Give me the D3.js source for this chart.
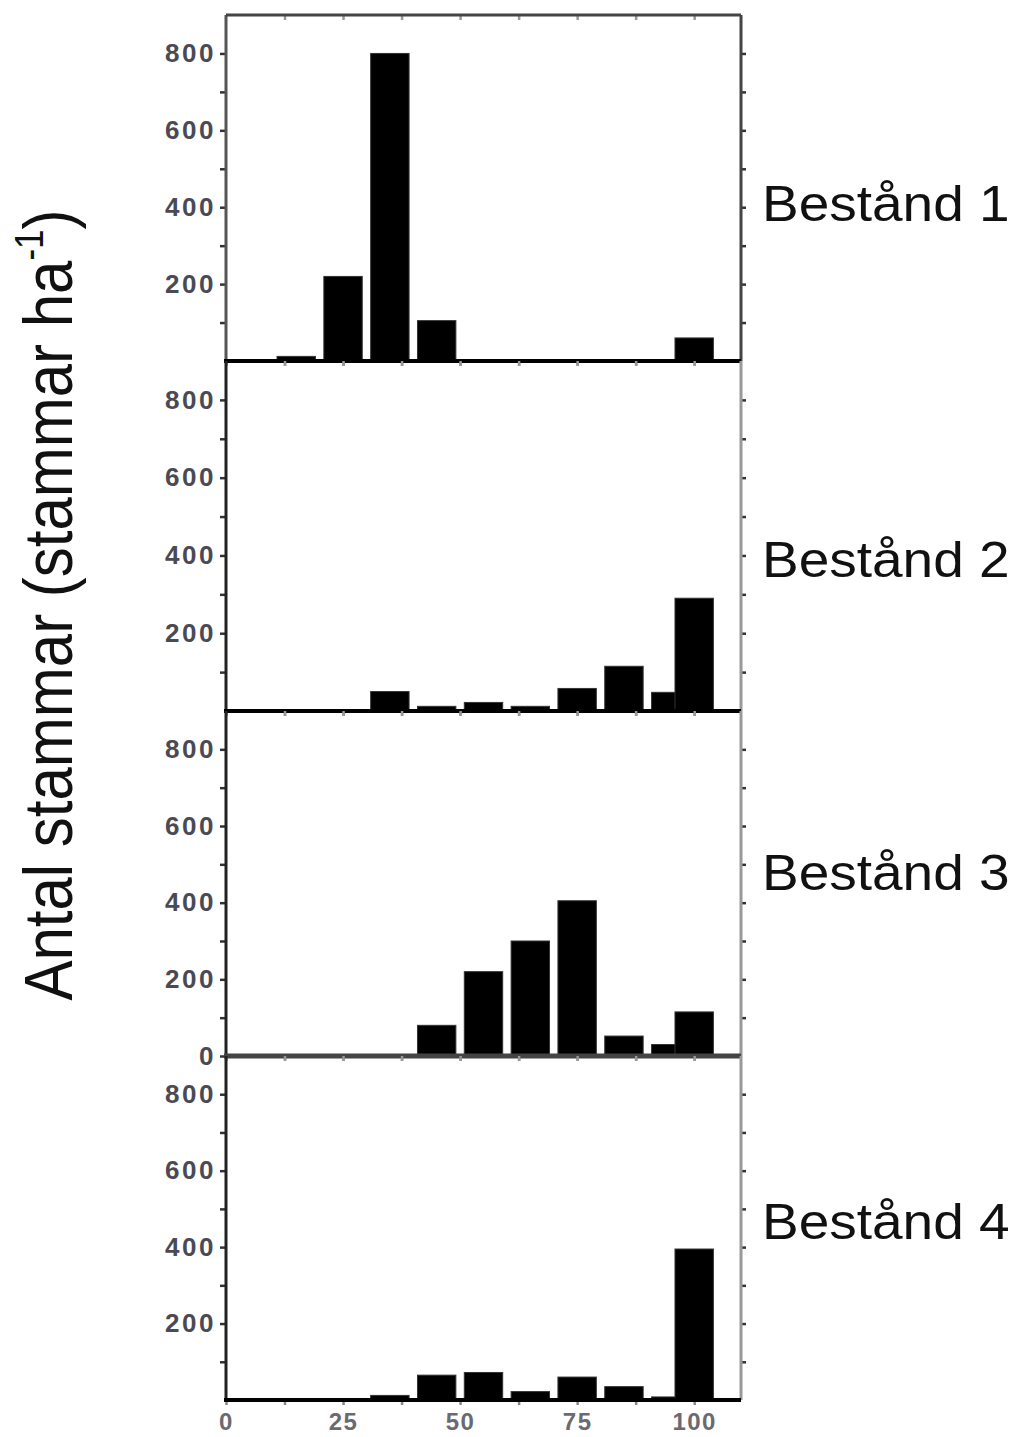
<!DOCTYPE html>
<meta charset="utf-8">
<script src="https://d3js.org/d3.v7.min.js"></script>
<style>
  body { margin: 0; background: #fff; }
  text { font-family: "Liberation Sans", Arial, sans-serif; }
</style>
<div id="chart"></div>
<script>

    // diameter classes (cm) and number of stems per hectare for each stand
    var classes = [15, 25, 35, 45, 55, 65, 75, 85, 95, 100];
    var stand1 = [12, 220, 800, 105, 0, 0, 0, 0, 0, 60];
    var stand2 = [0, 0, 50, 12, 22, 12, 58, 115, 48, 290];
    var stand3 = [0, 0, 0, 80, 220, 300, 405, 52, 30, 115];
    var stand4 = [0, 0, 12, 65, 72, 22, 60, 35, 8, 395];
    var standNames = ["Bestånd 1", "Bestånd 2", "Bestånd 3", "Bestånd 4"];
    var yTicks = [100, 200, 300, 400, 500, 600, 700, 800];
    var xTicks = [0, 25, 50, 75, 100];
    var xMinor = [12.5, 37.5, 62.5, 87.5];

    var stands = [stand1, stand2, stand3, stand4];

    var width = 1025, height = 1437;
    // panel edges from top to bottom, and where each label sits
    var edges = [15, 361, 711, 1056, 1400];
    var labelShift = [33, 41, 6, 11];

    var svg = d3.select("#chart")
        .append("svg")
        .attr("width", width)
        .attr("height", height);

    svg.append("rect").attr("width", width).attr("height", height).attr("fill", "#fff");

    // x scale is shared by all panels
    var x = d3.scaleLinear()
        .domain([0, 110])
        .range([226, 741]);

    var barW = x(8.2) - x(0);

    stands.forEach(function(values, i) {
        var top = edges[i], bottom = edges[i + 1];
        var y = d3.scaleLinear().domain([0, 900]).range([bottom, top]);

        var g = svg.append("g");

        // bars
        g.selectAll("rect.bar")
            .data(classes.map(function(c, j) { return {c: c, v: values[j]}; }))
            .enter()
            .append("rect")
            .attr("class", "bar")
            .attr("x", function(d) { return x(d.c) - barW / 2; })
            .attr("y", function(d) { return y(d.v); })
            .attr("width", barW)
            .attr("height", function(d) { return y(0) - y(d.v); })
            .attr("fill", "#000")
            .attr("stroke", "#333")
            .attr("stroke-width", 1);

        // left axis
        var labelled = i == 2 ? [0, 200, 400, 600, 800] : [200, 400, 600, 800];
        var left = g.append("g")
            .attr("transform", "translate(" + x(0) + ",0)")
            .call(d3.axisLeft(y)
                .tickValues(i == 2 ? [0].concat(yTicks) : yTicks)
                .tickSize(6)
                .tickPadding(4)
                .tickFormat(function(d) { return labelled.indexOf(d) >= 0 ? d : ""; }));
        left.select(".domain").remove();
        left.selectAll("line").attr("stroke", "#333").attr("stroke-width", 2.5);
        left.selectAll("text")
            .attr("font-size", 26)
            .attr("font-weight", "bold")
            .attr("letter-spacing", 2.5)
            .attr("fill", "#4a4a55");

        // right axis ticks
        var right = g.append("g")
            .attr("transform", "translate(" + x(110) + ",0)")
            .call(d3.axisRight(y).tickValues(yTicks).tickSize(5).tickFormat(""));
        right.select(".domain").remove();
        right.selectAll("line").attr("stroke", "#333").attr("stroke-width", 2.5);

        // top ticks pointing in
        var topAx = g.append("g")
            .attr("transform", "translate(0," + top + ")")
            .call(d3.axisBottom(x).tickValues(xTicks.concat(xMinor).filter(function(d) { return d > 0; })).tickSize(5).tickFormat(""));
        topAx.select(".domain").remove();
        topAx.selectAll("line").attr("stroke", "#999").attr("stroke-width", 2.5);

        // bottom ticks pointing out
        var bot = g.append("g")
            .attr("transform", "translate(0," + bottom + ")")
            .call(d3.axisBottom(x)
                .tickValues(xTicks.concat(xMinor))
                .tickSize(5)
                .tickPadding(8)
                .tickFormat(function(d) { return i == 3 && xTicks.indexOf(d) >= 0 ? d : ""; }));
        bot.select(".domain").remove();
        bot.selectAll("line").attr("stroke", "#888").attr("stroke-width", 2.5);
        bot.selectAll("text")
            .attr("font-size", 24)
            .attr("font-weight", "bold")
            .attr("letter-spacing", 1.5)
            .attr("fill", "#6a6a70");

        // frame
        g.append("line").attr("x1", x(0)).attr("x2", x(0)).attr("y1", top).attr("y2", bottom)
            .attr("stroke", i == 0 ? "#555" : "#222").attr("stroke-width", 3);
        g.append("line").attr("x1", x(110)).attr("x2", x(110)).attr("y1", top).attr("y2", bottom)
            .attr("stroke", i == 0 ? "#444" : "#999").attr("stroke-width", 3);
        if (i == 0) {
            g.append("line").attr("x1", x(0)).attr("x2", x(110)).attr("y1", top).attr("y2", top)
                .attr("stroke", "#444").attr("stroke-width", 3);
        }
        g.append("line").attr("x1", x(0) - 2).attr("x2", x(110)).attr("y1", bottom).attr("y2", bottom)
            .attr("stroke", i == 2 ? "#444" : "#000").attr("stroke-width", i == 2 ? 5 : 4);

        // stand label
        svg.append("text")
            .attr("transform", "translate(" + (x(110) + 21) + "," + ((top + bottom) / 2 + labelShift[i]) + ") scale(1.1,1)")
            .attr("font-size", 50)
            .attr("fill", "#111")
            .text(standNames[i]);
    });

    // y axis title
    var title = svg.append("text")
        .attr("transform", "translate(72," + 605 + ") rotate(-90) scale(1,1.15)")
        .attr("text-anchor", "middle")
        .attr("font-size", 60)
        .attr("fill", "#111");
    title.append("tspan").text("Antal stammar (stammar ha");
    title.append("tspan").attr("font-size", 35).attr("dy", -25).text("-1");
    title.append("tspan").attr("dy", 25).text(")");

</script>
